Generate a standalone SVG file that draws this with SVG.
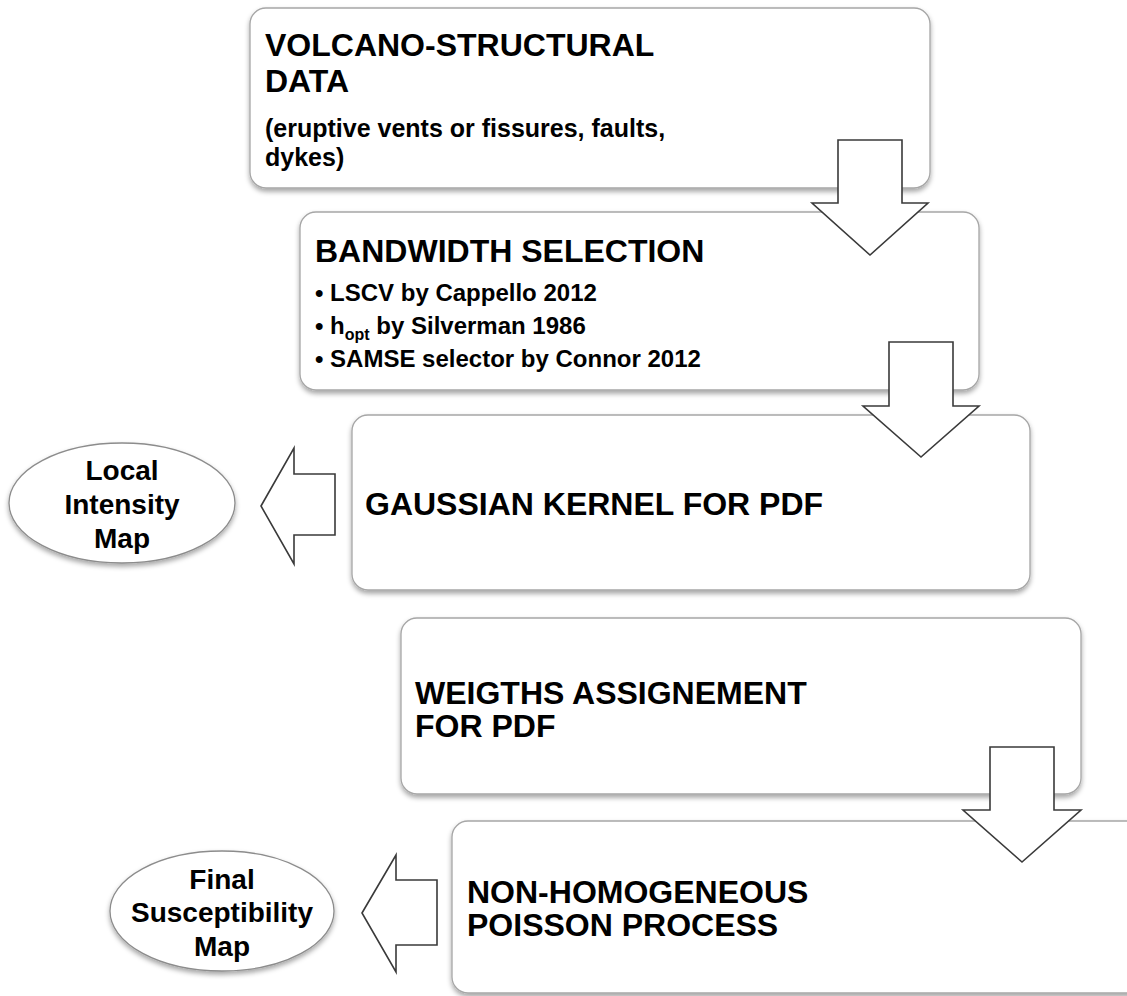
<svg xmlns="http://www.w3.org/2000/svg" width="1127" height="996" viewBox="0 0 1127 996">
<defs>
<filter id="sh" x="-5%" y="-5%" width="110%" height="120%">
<feDropShadow dx="0" dy="3" stdDeviation="2.5" flood-color="#000" flood-opacity="0.35"/>
</filter>
<style>
.box{fill:#fff;stroke:#a6a6a6;stroke-width:1.3;filter:url(#sh)}
.ell{fill:#fff;stroke:#8c8c8c;stroke-width:1.3;filter:url(#sh)}
.arr{fill:#fff;stroke:#3a3a3a;stroke-width:1.6;stroke-linejoin:miter}
text{font-family:"Liberation Sans",Arial,sans-serif;font-weight:bold;fill:#000}
.t{font-size:32px}
.s{font-size:25px}
.b{font-size:24px}
.e{font-size:28px;text-anchor:middle}
</style>
</defs>
<rect width="1127" height="996" fill="#fff"/>
<g id="box1">
<rect class="box" x="250" y="8" width="680" height="180" rx="16"/>
<text class="t" x="265" y="56">VOLCANO-STRUCTURAL</text>
<text class="t" x="265" y="92">DATA</text>
<text class="s" x="265" y="137">(eruptive vents or fissures, faults,</text>
<text class="s" x="265" y="166">dykes)</text>
</g>
<g id="box2">
<rect class="box" x="300" y="212" width="679" height="178" rx="16"/>
<text class="t" x="315" y="262">BANDWIDTH SELECTION</text>
<text class="b" x="315" y="301">• LSCV by Cappello 2012</text>
<text class="b" x="315" y="334">• h<tspan font-size="16" dy="6">opt</tspan><tspan dy="-6"> by Silverman 1986</tspan></text>
<text class="b" x="315" y="367">• SAMSE selector by Connor 2012</text>
</g>
<g id="box3">
<rect class="box" x="352" y="415" width="678" height="175" rx="16"/>
<text class="t" x="365" y="515">GAUSSIAN KERNEL FOR PDF</text>
</g>
<g id="box4">
<rect class="box" x="401" y="618" width="680" height="176" rx="16"/>
<text class="t" x="415" y="704">WEIGTHS ASSIGNEMENT</text>
<text class="t" x="415" y="737">FOR PDF</text>
</g>
<g id="box5">
<rect class="box" x="452" y="821" width="700" height="172" rx="16"/>
<text class="t" x="467" y="903">NON-HOMOGENEOUS</text>
<text class="t" x="467" y="936">POISSON PROCESS</text>
</g>
<g id="local-intensity-map">
<ellipse class="ell" cx="122" cy="503" rx="113" ry="60"/>
<text class="e" x="122" y="480">Local</text>
<text class="e" x="122" y="514">Intensity</text>
<text class="e" x="122" y="548">Map</text>
</g>
<g id="final-susceptibility-map">
<ellipse class="ell" cx="222" cy="911" rx="112" ry="60"/>
<text class="e" x="222" y="889">Final</text>
<text class="e" x="222" y="922">Susceptibility</text>
<text class="e" x="222" y="956">Map</text>
</g>
<g id="connectors">
<polygon class="arr" points="838,140 902,140 902,203 928,203 870,255 812,203 838,203"/>
<polygon class="arr" points="889,342 953,342 953,406 979,406 921,457 863,406 889,406"/>
<polygon class="arr" points="990,747 1054,747 1054,810 1081,810 1022,862 963,810 990,810"/>
<polygon class="arr" points="261,506 294,448 294,474 335,474 335,535 294,535 294,564"/>
<polygon class="arr" points="362,913 396,855 396,880 437,880 437,945 396,945 396,972"/>
</g>
</svg>
